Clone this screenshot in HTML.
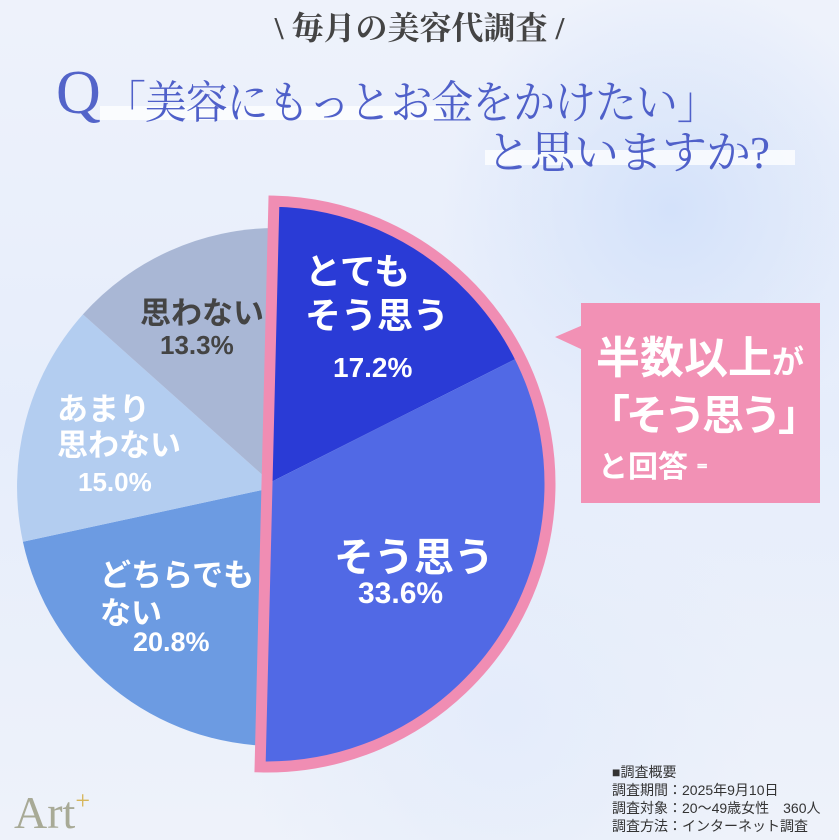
<!DOCTYPE html>
<html><head><meta charset="utf-8"><style>
html,body{margin:0;padding:0}
body{width:839px;height:840px;overflow:hidden;position:relative;
background:radial-gradient(circle at 80% 25%,#d4e2fa 0,rgba(212,226,250,0) 25%),
radial-gradient(circle at 60% 85%,#e4ecfb 0,rgba(228,236,251,0) 30%),
linear-gradient(180deg,#eef2fb 0%,#e6edfb 50%,#eef2fa 100%);
font-family:"Liberation Sans","Noto Sans CJK JP",sans-serif}
.abs{position:absolute;white-space:nowrap}
.serif{font-family:"Liberation Serif","Noto Serif CJK SC",serif}
</style></head><body>
<div class="abs serif" style="left:0;width:839px;top:3px;text-align:center;font-size:32px;font-weight:bold;color:#444;">\ 毎月の美容代調査 /</div>
<div class="abs" style="left:100px;top:106px;width:345px;height:14px;background:rgba(255,255,255,.75)"></div>
<div class="abs" style="left:485px;top:150px;width:310px;height:15px;background:rgba(255,255,255,.75)"></div>
<div class="abs serif" style="left:56px;top:58px;font-size:62px;color:#5364c9;">Q</div>
<div class="abs serif" style="left:104px;top:66px;font-size:45px;color:#4f60c9;letter-spacing:-1px;transform:scaleX(0.93);transform-origin:left">「美容にもっとお金をかけたい」</div>
<div class="abs serif" style="left:486px;top:116px;font-size:45px;color:#4f60c9;letter-spacing:-1px">と思いますか?</div>

<svg class="abs" style="left:0;top:0" width="839" height="840">
<path d="M276,487 L276,746 A259,259 0 0 1 22.9,541.7 Z" fill="#6c9be2"/>
<path d="M276,487 L22.9,541.7 A259,259 0 0 1 82.9,314.4 Z" fill="#b3cdf0"/>
<path d="M276,487 L82.9,314.4 A259,259 0 0 1 276,228 Z" fill="#a9b7d5"/>
<g transform="rotate(1.4 267 484)">
<path d="M267,484 L267,201 A283,283 0 0 1 516.6,350.7 Z" fill="#2a3bd6"/>
<path d="M267,484 L516.6,350.7 A283,283 0 0 1 267,767 Z" fill="#5169e5"/>
<path d="M267,484 L267,201 A283,283 0 0 1 267,767 Z" fill="none" stroke="#f08db3" stroke-width="11" stroke-linejoin="miter"/>
</g>
<polygon points="583,325 555,337 583,350" fill="#f291b5"/>
</svg>
<div class="abs" style="left:581px;top:303px;width:239px;height:200px;background:#f291b5"></div>
<div class="abs" style="left:596px;top:322px;font-size:44px;font-weight:bold;color:#fff">半数以上<span style="font-size:32px">が</span></div>
<div class="abs" style="left:588px;top:382px;font-size:42px;font-weight:bold;color:#fff;letter-spacing:-4px">「そう思う」</div>
<div class="abs" style="left:598px;top:442px;font-size:30px;font-weight:bold;color:#fff">と回答 <span style="font-size:22px">⁼</span></div>

<div class="abs" style="left:305px;top:250px;font-size:36px;font-weight:bold;color:#fff;line-height:44px">とても<br>そう思う</div>
<div class="abs" style="left:333px;top:352px;font-size:28px;font-weight:bold;color:#fff">17.2%</div>
<div class="abs" style="left:334px;top:525px;font-size:40px;font-weight:bold;color:#fff">そう思う</div>
<div class="abs" style="left:358px;top:577px;font-size:30px;font-weight:bold;color:#fff">33.6%</div>
<div class="abs" style="left:140px;top:288px;font-size:31px;font-weight:bold;color:#444">思わない</div>
<div class="abs" style="left:160px;top:330px;font-size:26px;font-weight:bold;color:#444">13.3%</div>
<div class="abs" style="left:57px;top:392px;font-size:31px;font-weight:bold;color:#fff;line-height:36px">あまり<br>思わない</div>
<div class="abs" style="left:78px;top:467px;font-size:26px;font-weight:bold;color:#fff">15.0%</div>
<div class="abs" style="left:100px;top:557px;font-size:31px;font-weight:bold;color:#fff;line-height:38px">どちらでも<br>ない</div>
<div class="abs" style="left:133px;top:627px;font-size:27px;font-weight:bold;color:#fff">20.8%</div>

<div class="abs" style="left:612px;top:763px;font-size:14px;line-height:18px;color:#333">■調査概要<br>調査期間：2025年9月10日<br>調査対象：20〜49歳女性　360人<br>調査方法：インターネット調査</div>
<div class="abs serif" style="left:14px;top:786px;font-size:46px;color:#a8aa96">Art<span style="font-size:26px;color:#d6b65a;vertical-align:top">+</span></div>
</body></html>
